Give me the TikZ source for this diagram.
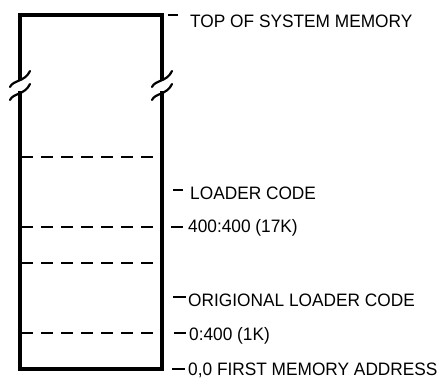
\documentclass[tikz,border=0pt]{standalone}
\usepackage{fontspec}
\setmainfont{Liberation Sans}[FakeStretch=0.96]
\begin{document}
\begin{tikzpicture}[x=1pt,y=-1pt,
  wall/.style={line width=3.6pt,line cap=rect},
  breakmark/.style={line width=2.2pt,line cap=round},
  divider/.style={line width=1.8pt,dash pattern=on 12pt off 8pt},
  tick/.style={line width=1.6pt},
  lbl/.style={anchor=base west,inner sep=0pt,font=\fontsize{18}{20}\selectfont}]
\useasboundingbox (0,0) rectangle (441,379);
% box walls
\draw[wall] (20,78) -- (20,15) -- (162,15) -- (162,78);
\draw[wall] (20,93) -- (20,369) -- (162,369) -- (162,93);
% break marks
\foreach \x in {20,162}{
  \foreach \y in {79,92}{
    \draw[breakmark] (\x-10,\y+8) .. controls (\x-7,\y+1) and (\x+5,\y+3) .. (\x+10,\y-8);
  }
}
% dividers
\foreach \y in {157,227,263,333}{
  \draw[divider] (21,\y) -- (160,\y);
}
% labels
\node[lbl] (top) at (190,28) {TOP OF SYSTEM MEMORY};
\node[lbl] (loader) at (190,200) {LOADER CODE};
\node[lbl] (a17k) at (188,233) {400:400 (17K)};
\node[lbl] (orig) at (188,306) {ORIGIONAL LOADER CODE};
\node[lbl] (a1k) at (189,340) {0:400 (1K)};
\node[lbl] (first) at (188,375) {0,0 FIRST MEMORY ADDRESS};
% leader ticks
\coordinate (t1a) at (168,15); \coordinate (t1b) at (178,15);
\coordinate (t2a) at (173,190); \coordinate (t2b) at (183,190);
\coordinate (t3a) at (171,227); \coordinate (t3b) at (183,227);
\coordinate (t4a) at (173,297); \coordinate (t4b) at (186,297);
\coordinate (t5a) at (174,333); \coordinate (t5b) at (186,333);
\coordinate (t6a) at (172,369); \coordinate (t6b) at (185,369);
\foreach \i in {1,...,6}{ \draw[tick] (t\i a) -- (t\i b); }
\end{tikzpicture}
\end{document}
